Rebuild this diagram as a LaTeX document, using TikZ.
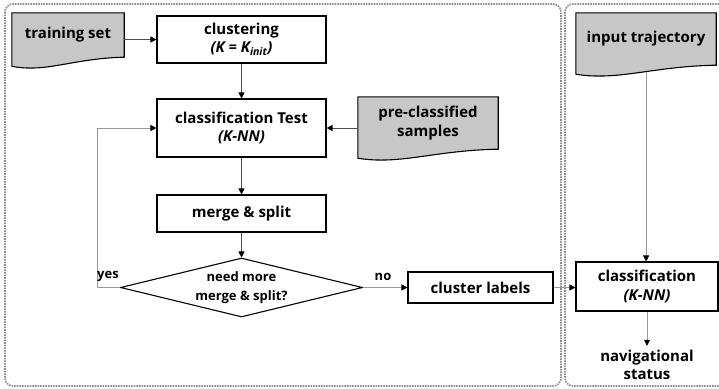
\documentclass[tikz,border=0pt]{standalone}
\usepackage{fontspec}
\setmainfont{Open Sans}[BoldFont={Open Sans Bold}, BoldItalicFont={Open Sans Bold Italic}]
\usetikzlibrary{arrows.meta}
\usetikzlibrary{shapes.geometric}
\usetikzlibrary{calc}
\usetikzlibrary{backgrounds}
\tikzstyle{box} = [draw, line width=1.1pt, fill=white, align=center, inner sep=0pt, font=\fontsize{15}{18.5}\selectfont\bfseries]
\tikzstyle{doc} = [align=center, inner sep=0pt, font=\fontsize{15}{18.5}\selectfont\bfseries]
\tikzstyle{docline} = [draw, line width=1.1pt, fill=black!22]
\tikzstyle{decision} = [draw, diamond, aspect=4, line width=1.1pt, align=center, inner sep=0pt, font=\fontsize{13}{19}\selectfont\bfseries]
\tikzstyle{small} = [font=\fontsize{13}{15}\selectfont\bfseries, inner sep=0pt]
\tikzstyle{arrow} = [draw=black!70, line width=0.7pt, -{Triangle[black, length=6pt, width=6pt]}]
\tikzstyle{garrow} = [arrow, draw=black!40]
\tikzstyle{frame} = [draw=black!45, densely dotted, line width=1.6pt, rounded corners=8pt]
\newcommand{\docshape}[1]{%
  \draw[docline] (#1.north west) -- (#1.north east) -- (#1.south east)
    .. controls ($(#1.south east)!0.45!(#1.south west)+(0,1)$) and ($(#1.south east)!0.7!(#1.south west)+(0,16)$)
    .. coordinate[pos=0.44] (#1 wave) ($(#1.south west)+(0,9)$) -- cycle;}

\begin{document}
\begin{tikzpicture}[x=1pt, y=-1pt]
			\path[use as bounding box, clip] (0,0) rectangle (719,388);
			\draw[frame] (5,4) rectangle (561,386);
			\draw[frame] (565,4) rectangle (740,386);
			
			\node[doc, minimum width=112, minimum height=44] (train) at (68,35) {training set};
			\node[box, minimum width=169, minimum height=47] (clust) at (241.5,39.5) {clustering\\\textit{(K = K\textsubscript{init})}};
			\node[box, minimum width=169, minimum height=58] (ctest) at (241.5,128) {classification Test\\\textit{(K-NN)}};
			\node[doc, minimum width=140, minimum height=52] (pre) at (428,123) {pre-classified\\samples};
			\node[box, minimum width=169, minimum height=37] (merge) at (241.5,213.5) {merge \& split};
			\node[decision, minimum width=242, minimum height=59] (dec) at (241.5,287.5) {need more\\merge \& split?};
			\node[box, minimum width=145, minimum height=31] (labels) at (480.5,287.5) {cluster labels};
			\node[doc, minimum width=140, minimum height=52] (input) at (646,39) {input trajectory};
			\node[box, minimum width=142, minimum height=49] (classif) at (647,286.5) {classification\\\textit{(K-NN)}};
			\node[doc] (nav) at (647,365) {navigational\\status};
			
			\begin{scope}[on background layer]
				\docshape{train}
				\docshape{pre}
				\docshape{input}
			\end{scope}
			
			\draw[arrow] (train.east |- clust.west) -- (clust.west);
			\draw[arrow] (clust) -- (ctest);
			\draw[arrow] (pre.west |- ctest.east) -- (ctest.east);
			\draw[arrow] (ctest) -- (merge);
			\draw[arrow] (merge) -- (dec);
			\draw[garrow] (dec.west) -- ++(-23,0) |- (ctest.west);
			\draw[garrow] (dec) -- (labels);
			\draw[garrow] (labels.east) -- (labels.east -| classif.west);
			\draw[garrow] (input wave) -- (input wave |- classif.north);
			\draw[garrow] (classif) -- ([yshift=4pt]nav.north);
			
			\node[small] (yes) at (108,276) {yes};
			\node[small] (no) at (383,277) {no};
		\end{tikzpicture}
\end{document}
